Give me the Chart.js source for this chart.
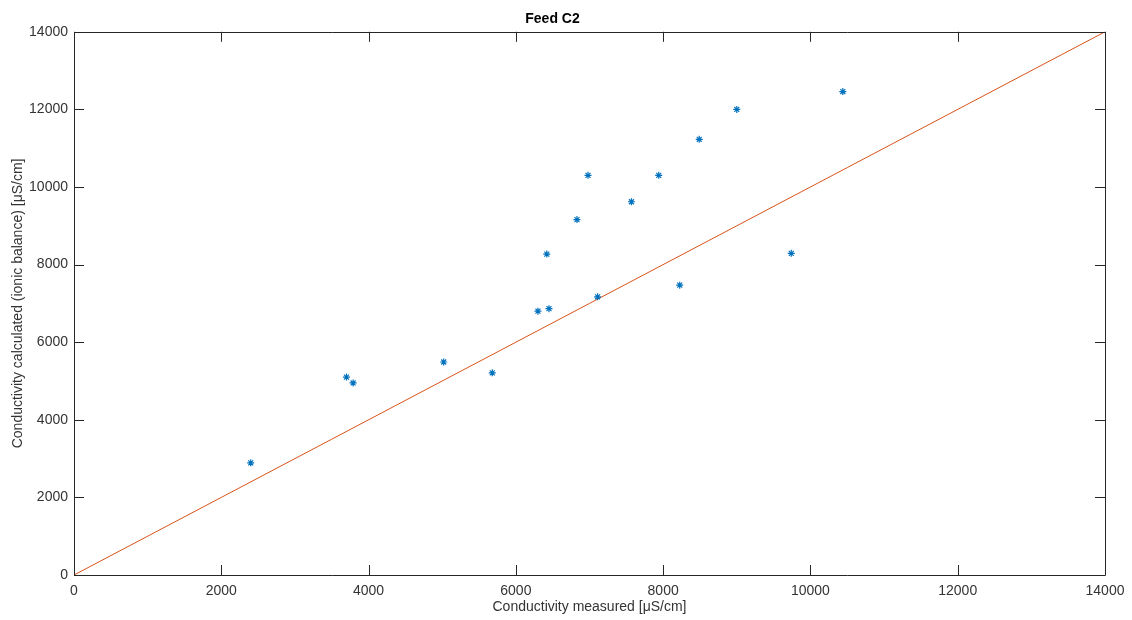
<!DOCTYPE html>
<html>
<head>
<meta charset="utf-8">
<script src="https://cdn.jsdelivr.net/npm/chart.js@4.4.0/dist/chart.umd.min.js"></script>
<style>
  html, body { margin: 0; padding: 0; background: #fff; }
  #wrap { width: 1132px; height: 620px; }
</style>
</head>
<body>
<div id="wrap"><canvas id="chart"></canvas></div>
<script>
// Valores
const measured = [2400, 3700, 3790, 5020, 5680, 6300, 6450, 6420, 6830, 6980, 7110, 7570, 7940, 8225, 8490, 9000, 9740, 10440];
const calculated = [2890, 5100, 4950, 5490, 5210, 6800, 6865, 8270, 9160, 10300, 7170, 9620, 10300, 7470, 11230, 12000, 8290, 12460];
const lineX = [0, 14000];
const lineY = [0, 14000];
const tickValues = [0, 2000, 4000, 6000, 8000, 10000, 12000, 14000];

const axisColor = '#262626';
const labelColor = '#333333';
const fontFamily = '"Liberation Sans", Arial, sans-serif';

// Caixa e marcas internas estilo MATLAB
const boxPlugin = {
    id: 'boxTicks',
    afterDraw(chart) {
        const ctx = chart.ctx;
        const a = chart.chartArea;
        const xs = chart.scales.x;
        const ys = chart.scales.y;
        ctx.save();
        ctx.strokeStyle = axisColor;
        ctx.lineWidth = 1;
        ctx.beginPath();
        ctx.rect(Math.round(a.left) + 0.5, Math.round(a.top) + 0.5,
                 Math.round(a.right - a.left), Math.round(a.bottom - a.top));
        ctx.stroke();
        const len = 10;
        ctx.beginPath();
        tickValues.forEach(v => {
            const px = Math.round(xs.getPixelForValue(v)) + 0.5;
            ctx.moveTo(px, a.bottom); ctx.lineTo(px, a.bottom - len);
            ctx.moveTo(px, a.top); ctx.lineTo(px, a.top + len);
            const py = Math.round(ys.getPixelForValue(v)) + 0.5;
            ctx.moveTo(a.left, py); ctx.lineTo(a.left + len, py);
            ctx.moveTo(a.right, py); ctx.lineTo(a.right - len, py);
        });
        ctx.stroke();
        ctx.restore();
    }
};

window.onload = function() {
    window.scatterChart = new Chart(document.getElementById('chart'), {
        type: 'scatter',
        data: {
            datasets: [
                {
                    label: 'Dados',
                    data: measured.map((x, i) => ({ x: x, y: calculated[i] })),
                    pointStyle: 'star',
                    radius: 3.5,
                    borderWidth: 1.2,
                    borderColor: 'rgb(0, 114, 189)',
                    backgroundColor: 'rgb(0, 114, 189)',
                    order: 1
                },
                {
                    label: 'y = x',
                    data: lineX.map((x, i) => ({ x: x, y: lineY[i] })),
                    showLine: true,
                    pointRadius: 0,
                    borderWidth: 1,
                    borderColor: 'rgb(217, 83, 25)',
                    order: 2
                }
            ]
        },
        options: {
            responsive: true,
            maintainAspectRatio: false,
            animation: false,
            layout: { padding: { left: 0, right: 27, top: 0, bottom: 0 } },
            plugins: {
                legend: { display: false },
                tooltip: { enabled: false },
                title: {
                    display: true,
                    text: 'Feed C2',
                    color: '#000',
                    font: { family: fontFamily, size: 14, weight: 'bold' },
                    padding: { top: 11, bottom: 4 }
                }
            },
            scales: {
                x: {
                    type: 'linear',
                    min: 0,
                    max: 14000,
                    afterBuildTicks(scale) { scale.ticks = tickValues.map(v => ({ value: v })); },
                    afterFit(scale) { scale.height = 45; },
                    grid: { display: false },
                    border: { display: false },
                    ticks: {
                        color: labelColor,
                        padding: 0,
                        font: { family: fontFamily, size: 14 },
                        maxRotation: 0,
                        callback: v => String(v)
                    },
                    title: {
                        display: true,
                        text: 'Conductivity measured [μS/cm]',
                        color: labelColor,
                        font: { family: fontFamily, size: 14 },
                        padding: { top: 0, bottom: 4 }
                    }
                },
                y: {
                    type: 'linear',
                    min: 0,
                    max: 14000,
                    afterBuildTicks(scale) { scale.ticks = tickValues.map(v => ({ value: v })); },
                    afterFit(scale) { scale.width = 74; },
                    grid: { display: false },
                    border: { display: false },
                    ticks: {
                        color: labelColor,
                        padding: -2,
                        font: { family: fontFamily, size: 14 },
                        callback: v => String(v)
                    },
                    title: {
                        display: true,
                        text: 'Conductivity calculated (ionic balance) [μS/cm]',
                        color: labelColor,
                        font: { family: fontFamily, size: 14 },
                        padding: { top: 10, bottom: 0 }
                    }
                }
            }
        },
        plugins: [boxPlugin]
    });
};
</script>
</body>
</html>
